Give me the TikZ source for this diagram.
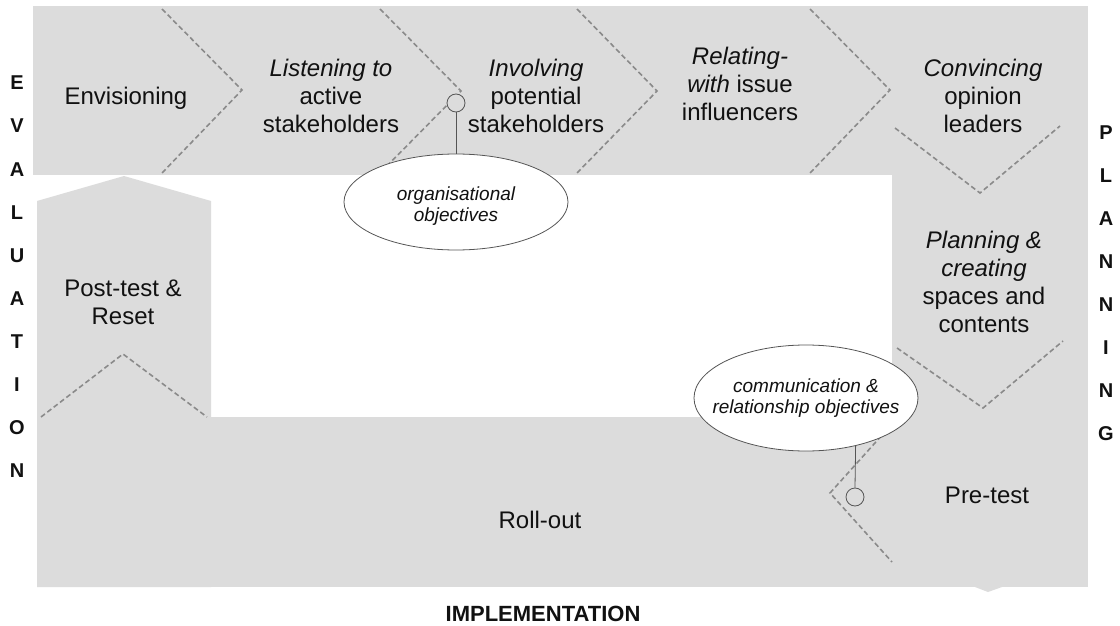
\documentclass[tikz,border=0pt]{standalone}
\usepackage{fontspec}
\setmainfont{Liberation Sans}
\usetikzlibrary{shapes.geometric}
\definecolor{bandgray}{HTML}{DCDCDC}
\definecolor{dashgray}{HTML}{8A8A8A}
\definecolor{rimgray}{HTML}{555555}
\definecolor{inkblack}{HTML}{111111}
\begin{document}
\begin{tikzpicture}[x=1pt,y=-1pt,
  band/.style={fill=bandgray,draw=none},
  chev/.style={draw=dashgray,line width=1.6pt,dash pattern=on 5pt off 3pt},
  lbl/.style={align=center,text=inkblack,font=\fontsize{24}{28}\selectfont,inner sep=0pt},
  side/.style={text=inkblack,font=\fontsize{20}{24}\selectfont\bfseries,inner sep=0pt},
  objell/.style={ellipse,draw=rimgray,fill=white,line width=0.8pt,minimum width=224pt,minimum height=100pt,inner sep=0pt},
  objtxt/.style={align=center,text=inkblack,font=\fontsize{19}{21.5}\selectfont\itshape,inner sep=0pt},
  knob/.style={circle,draw=rimgray,fill=bandgray,line width=0.8pt,minimum size=18pt,inner sep=0pt},
  stem/.style={draw=rimgray,line width=0.8pt}]
\useasboundingbox (0,0) rectangle (1120,626);
\fill[white] (0,0) rectangle (1120,626);
% grey regions
\path[band] (33,6) rectangle (1088,175);
\path[band] (892,175) rectangle (1088,587);
\path[band] (37,417) rectangle (1088,587);
\path[band] (975,587) -- (988,592) -- (1002,587) -- cycle;
\path[band] (37,587) -- (37,201) -- (124,176) -- (211,201) -- (211,587) -- cycle;
% dashed chevrons
\draw[chev] (162,9) -- (242,90) -- (162,173);
\draw[chev] (380,9) -- (461,91) -- (380,173);
\draw[chev] (577,9) -- (657,91) -- (577,173);
\draw[chev] (810,9) -- (890,90) -- (810,173);
\draw[chev] (895,128) -- (980,193) -- (1060,126);
\draw[chev] (897,348) -- (983,408) -- (1063,341);
\draw[chev] (892,424) -- (830,493) -- (892,562);
\draw[chev] (41,417) -- (123,354) -- (207,417);
% objective ellipses and their knobs
\node[knob] (knob1) at (456,103) {};
\node[objell,minimum height=96pt] (orgobj) at (456,202) {};
\node[objtxt] (orgtxt) at ([yshift=-4pt]orgobj.center) {organisational\\objectives};
\draw[stem] (knob1.south) -- (orgobj.north);
\node[knob] (knob2) at (855,497) {};
\node[objell,minimum height=106pt] (comobj) at (806,398) {};
\node[objtxt] (comtxt) at (comobj.center) {communication \&\\relationship objectives};
\draw[stem] (knob2.north) -- (comobj.-44.2);
% stage labels
\node[lbl] (envis) at (126,98) {Envisioning};
\node[lbl] (listen) at (331,96) {\textit{Listening to}\\active\\stakeholders};
\node[lbl] (involve) at (536,96) {\textit{Involving}\\potential\\stakeholders};
\node[lbl] (relate) at (740,84) {\textit{Relating-}\\\textit{with} issue\\influencers};
\node[lbl] (convince) at (983,96) {\textit{Convincing}\\opinion\\leaders};
\node[lbl] (plan) at (984,282) {\textit{Planning \&}\\\textit{creating}\\spaces and\\contents};
\node[lbl] (posttest) at (123,302) {Post-test \&\\Reset};
\node[lbl] (rollout) at (540,520) {Roll-out};
\node[lbl] (pretest) at (987,495) {Pre-test};
% phase labels
\foreach \ch [count=\i] in {E,V,A,L,U,A,T,I,O,N}
  \node[side] (ev\i) at (17,{83+43.1*(\i-1)}) {\ch};
\foreach \ch [count=\i] in {P,L,A,N,N,I,N,G}
  \node[side] (pl\i) at (1106,{133+43*(\i-1)}) {\ch};
\node[side,font=\fontsize{22}{26}\selectfont\bfseries] (impl) at (543,614) {IMPLEMENTATION};
\end{tikzpicture}
\end{document}
